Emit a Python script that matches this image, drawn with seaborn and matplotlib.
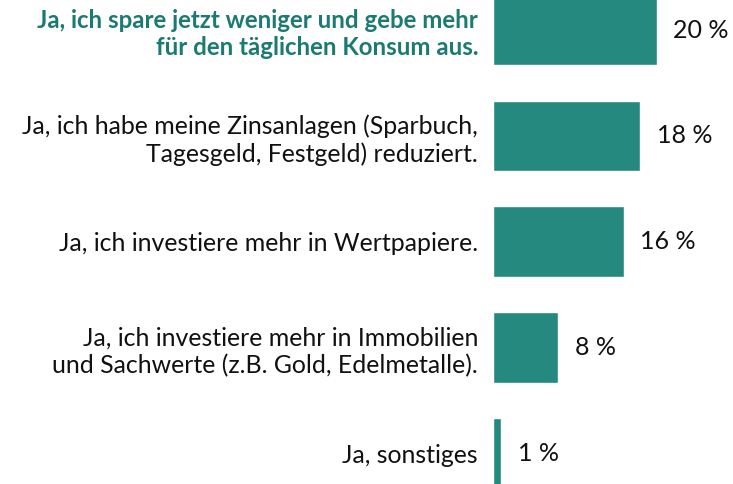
import matplotlib
matplotlib.use("Agg")
import matplotlib.pyplot as plt
import seaborn as sns
import pandas as pd

# Daten
labels = [
    "Ja, ich spare jetzt weniger und gebe mehr\nfür den täglichen Konsum aus.",
    "Ja, ich habe meine Zinsanlagen (Sparbuch,\nTagesgeld, Festgeld) reduziert.",
    "Ja, ich investiere mehr in Wertpapiere.",
    "Ja, ich investiere mehr in Immobilien\nund Sachwerte (z.B. Gold, Edelmetalle).",
    "Ja, sonstiges",
]
values = [20, 18, 16, 8, 1]

bar_color = "#26897f"
highlight_color = "#1b7a72"

sns.set_theme(style="white")
plt.rcParams['font.family'] = ['Lato', 'DejaVu Sans']

df = pd.DataFrame({"Antwort": labels, "Anteil": values})

fig = plt.figure(figsize=(7.33, 4.84), dpi=100)
ax = fig.add_axes([492.7 / 733, 0, 240.3 / 733, 1])

sns.barplot(data=df, y="Antwort", x="Anteil", orient="h", color=bar_color,
            width=0.666, saturation=1, ax=ax)

ax.set_xlim(0, 240.3 / 8.19)
ax.set_ylim(4.291, -0.2836)
ax.set_xlabel("")
ax.set_ylabel("")
ax.set_xticks([])
for s in ax.spines.values():
    s.set_visible(False)

ax.tick_params(axis="y", length=0, pad=10.5)
for i, t in enumerate(ax.get_yticklabels()):
    t.set_fontsize(17.9)
    t.set_horizontalalignment("right")
    t.set_linespacing(1.22)
    t.set_color("#111111")
    if i == 0:
        t.set_color(highlight_color)
        t.set_fontweight("bold")
        t.set_fontsize(17.3)

ax.bar_label(ax.containers[0], labels=[f"{v} %" for v in values],
             padding=12, fontsize=18, color="#111111")

fig.savefig("out.png", dpi=100)
